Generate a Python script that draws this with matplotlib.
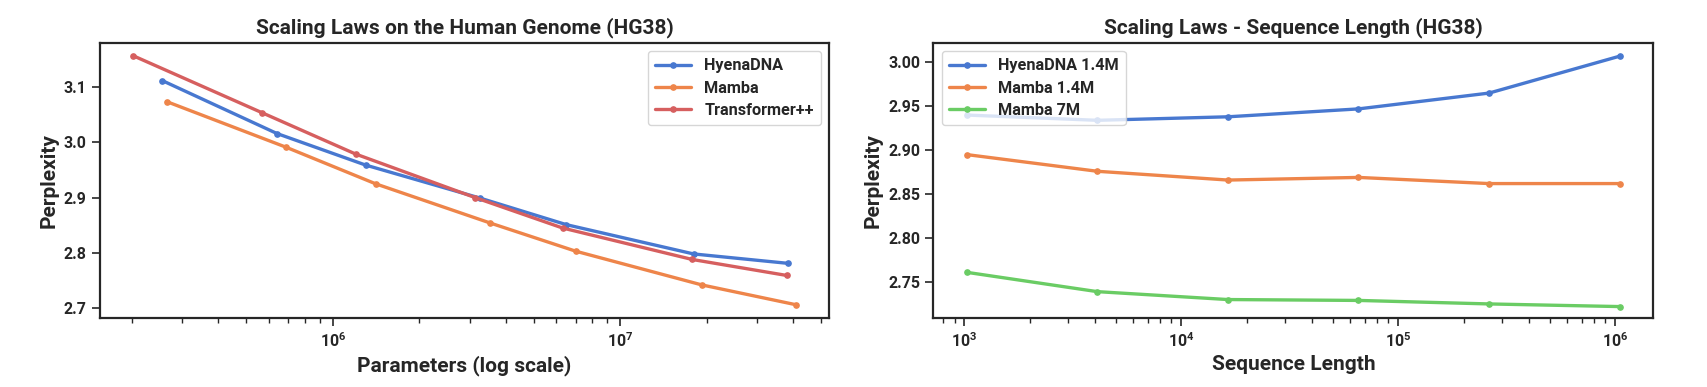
import matplotlib
matplotlib.use("Agg")
import matplotlib.pyplot as plt
import seaborn as sns
from matplotlib.ticker import FixedLocator, FormatStrFormatter

sns.set_theme(style="ticks", palette="muted")
plt.rcParams['font.family'] = ['Roboto', 'DejaVu Sans']
plt.rcParams['font.weight'] = 'bold'
plt.rcParams['text.color'] = '#262626'

# ---- Left panel data: parameters vs perplexity ----
hyena_params = [2.55e5, 6.4e5, 1.30e6, 3.26e6, 6.5e6, 1.80e7, 3.83e7]
hyena_ppl = [3.112, 3.016, 2.959, 2.899, 2.851, 2.798, 2.781]
mamba_params = [2.64e5, 6.9e5, 1.41e6, 3.53e6, 7.0e6, 1.92e7, 4.09e7]
mamba_ppl = [3.074, 2.991, 2.925, 2.854, 2.803, 2.742, 2.706]
tpp_params = [2.02e5, 5.66e5, 1.20e6, 3.13e6, 6.3e6, 1.78e7, 3.80e7]
tpp_ppl = [3.157, 3.054, 2.979, 2.900, 2.845, 2.788, 2.759]

# ---- Right panel data: sequence length vs perplexity ----
seq_len = [1024, 4096, 16384, 65536, 262144, 1048576]
hyena14_ppl = [2.940, 2.934, 2.938, 2.947, 2.965, 3.007]
mamba14_ppl = [2.895, 2.876, 2.866, 2.869, 2.862, 2.862]
mamba7_ppl = [2.761, 2.739, 2.730, 2.729, 2.725, 2.722]

left_yticks = [2.7, 2.8, 2.9, 3.0, 3.1]
right_yticks = [2.75, 2.80, 2.85, 2.90, 2.95, 3.00]

pal = sns.color_palette("muted")
c_blue, c_orange, c_green, c_red = pal[0], pal[1], pal[2], pal[3]

fig = plt.figure(figsize=(17.07, 3.87), dpi=100)
ax1 = fig.add_axes([0.0586, 0.1783, 0.4271, 0.7106])
ax2 = fig.add_axes([0.5468, 0.1783, 0.4218, 0.7106])

lw = 2.4
ms = 3.8
tick_fs = 11.5
legend_fs = 11.7
label_fs = 15
title_fs = 15
dark = '#262626'

ax1.plot(hyena_params, hyena_ppl, marker='o', ms=ms, lw=lw, color=c_blue, label='HyenaDNA')
ax1.plot(mamba_params, mamba_ppl, marker='o', ms=ms, lw=lw, color=c_orange, label='Mamba')
ax1.plot(tpp_params, tpp_ppl, marker='o', ms=ms, lw=lw, color=c_red, label='Transformer++')
ax1.set_xscale('log')
ax1.set_xlim(1.55e5, 5.33e7)
ax1.set_ylim(2.682, 3.180)
ax1.yaxis.set_major_locator(FixedLocator(left_yticks))
ax1.yaxis.set_major_formatter(FormatStrFormatter('%.1f'))
ax1.set_xlabel('Parameters (log scale)', fontsize=label_fs, fontweight='bold')
ax1.set_ylabel('Perplexity', fontsize=label_fs, fontweight='bold')
ax1.set_title('Scaling Laws on the Human Genome (HG38)', fontsize=title_fs, fontweight='bold', pad=7)
ax1.legend(loc='upper right', prop={'size': legend_fs, 'weight': 'bold'}, handlelength=2.2,
           borderpad=0.45, labelspacing=0.45, frameon=True)

ax2.plot(seq_len, hyena14_ppl, marker='o', ms=ms, lw=lw, color=c_blue, label='HyenaDNA 1.4M')
ax2.plot(seq_len, mamba14_ppl, marker='o', ms=ms, lw=lw, color=c_orange, label='Mamba 1.4M')
ax2.plot(seq_len, mamba7_ppl, marker='o', ms=ms, lw=lw, color=c_green, label='Mamba 7M')
ax2.set_xscale('log')
ax2.set_xlim(719, 1.5e6)
ax2.set_ylim(2.709, 3.022)
ax2.yaxis.set_major_locator(FixedLocator(right_yticks))
ax2.yaxis.set_major_formatter(FormatStrFormatter('%.2f'))
ax2.set_xlabel('Sequence Length', fontsize=label_fs, fontweight='bold')
ax2.set_ylabel('Perplexity', fontsize=label_fs, fontweight='bold')
ax2.set_title('Scaling Laws - Sequence Length (HG38)', fontsize=title_fs, fontweight='bold', pad=7)
ax2.legend(loc='upper left', prop={'size': legend_fs, 'weight': 'bold'}, handlelength=2.2,
           borderpad=0.45, labelspacing=0.45, frameon=True)

for ax in (ax1, ax2):
    for s in ax.spines.values():
        s.set_linewidth(1.6)
        s.set_color(dark)
        s.set_visible(True)
    ax.tick_params(axis='both', which='major', labelsize=tick_fs, length=6, width=1.2, color=dark, labelcolor=dark)
    ax.tick_params(axis='both', which='minor', length=3.5, width=1.0, color=dark)

fig.savefig('out.png', dpi=100)
